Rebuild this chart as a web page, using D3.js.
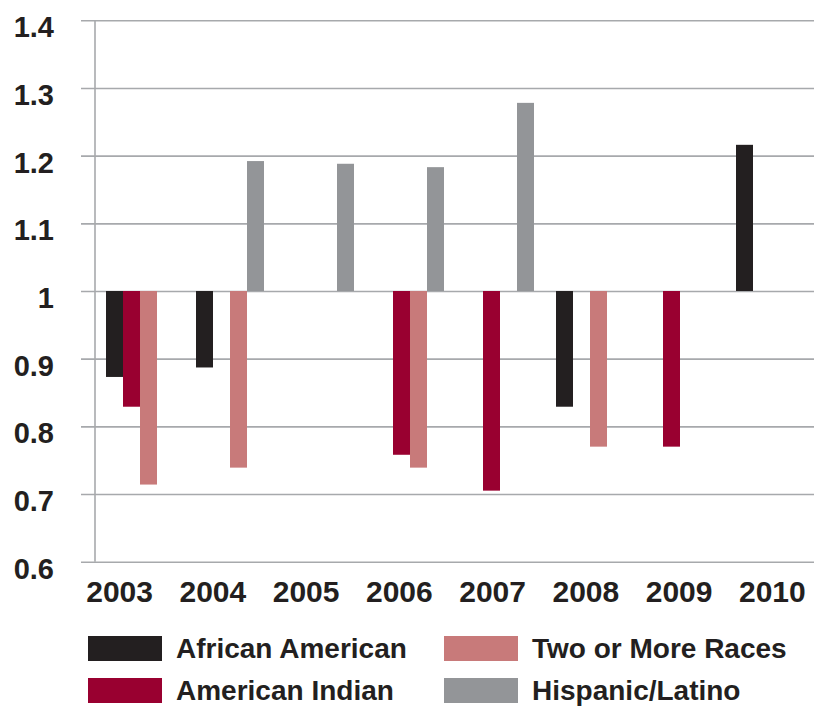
<!DOCTYPE html>
<html>
<head>
<meta charset="utf-8">
<script src="https://cdn.jsdelivr.net/npm/d3@7"></script>
<style>
  body { margin: 0; background: #fff; }
  svg { display: block; font-family: "Liberation Sans", Arial, Helvetica, sans-serif; font-weight: bold; }
</style>
</head>
<body>
<svg id="chart"></svg>
<script>
// data
const years = ['2003', '2004', '2005', '2006', '2007', '2008', '2009', '2010']
const seriesNames = ['African American', 'American Indian', 'Two or More Races', 'Hispanic/Latino']
const africanAmerican = [0.873, 0.887, null, null, null, 0.829, null, 1.216]
const americanIndian = [0.829, null, null, 0.758, 0.705, null, 0.770, null]
const twoOrMoreRaces = [0.714, 0.739, null, 0.739, null, 0.770, null, null]
const hispanicLatino = [null, 1.192, 1.188, 1.183, 1.278, null, null, null]
const yTicks = [0.6, 0.7, 0.8, 0.9, 1, 1.1, 1.2, 1.3, 1.4]
const yTickLabels = ['0.6', '0.7', '0.8', '0.9', '1', '1.1', '1.2', '1.3', '1.4']
const baseline = 1

const colors = ['#231f20', '#990030', '#c87a7a', '#939598']
const seriesValues = [africanAmerican, americanIndian, twoOrMoreRaces, hispanicLatino]

const width = 814
const height = 707

const svg = d3.select('#chart')
  .attr('width', width)
  .attr('height', height)

// scales
const y = d3.scaleLinear().domain([0.6, 1.4]).range([561.7, 20.3])
const x0 = d3.scaleBand().domain(years).range([95, 815])
const x1 = d3.scaleBand().domain(seriesNames).range([11, 79])
const xLabel = d3.scaleBand().domain(years).range([73, 819])

// gridlines + y labels
const yAxis = svg.append('g')
  .attr('transform', `translate(${width},0)`)
  .call(d3.axisLeft(y)
    .tickValues(yTicks)
    .tickFormat((d, i) => yTickLabels[i])
    .tickSize(width - 81)
    .tickPadding(27))
yAxis.select('.domain').remove()
yAxis.selectAll('line')
  .attr('stroke', '#a7a9ac')
  .attr('stroke-width', 1.6)
yAxis.selectAll('text')
  .attr('dy', '0.57em')
  .attr('fill', '#231f20')
  .style('font-size', '29px')
  .style('font-family', '"Liberation Sans", Arial, sans-serif')

// vertical axis line
svg.append('line')
  .attr('x1', 95).attr('x2', 95)
  .attr('y1', y(1.4)).attr('y2', y(0.6))
  .attr('stroke', '#a7a9ac')
  .attr('stroke-width', 1.6)

// bars
const barData = []
seriesNames.forEach((s, si) => {
  seriesValues[si].forEach((v, yi) => {
    if (v !== null) barData.push({ year: years[yi], series: s, value: v, color: colors[si] })
  })
})

svg.append('g').selectAll('rect')
  .data(barData)
  .enter()
  .append('rect')
  .attr('x', d => x0(d.year) + x1(d.series))
  .attr('y', d => Math.min(y(d.value), y(baseline)))
  .attr('width', x1.bandwidth())
  .attr('height', d => Math.abs(y(d.value) - y(baseline)))
  .attr('fill', d => d.color)

// year labels
const xAxis = svg.append('g')
  .attr('transform', 'translate(0,602)')
  .call(d3.axisBottom(xLabel).tickSize(0).tickPadding(0))
xAxis.select('.domain').remove()
xAxis.selectAll('text')
  .attr('y', 0)
  .attr('dy', 0)
  .attr('fill', '#231f20')
  .style('font-size', '30px')
  .style('font-family', '"Liberation Sans", Arial, sans-serif')

// legend
const legendCols = [88, 444]
const legendRows = [636, 678]
const legendOrder = [0, 2, 1, 3]
const legend = svg.append('g').selectAll('g')
  .data(legendOrder)
  .enter()
  .append('g')
  .attr('transform', (d, i) => `translate(${legendCols[i % 2]},${legendRows[Math.floor(i / 2)]})`)

legend.append('rect')
  .attr('width', 74)
  .attr('height', 25)
  .attr('fill', d => colors[d])

legend.append('text')
  .attr('x', 88)
  .attr('y', 22)
  .attr('fill', '#231f20')
  .style('font-size', '28px')
  .text(d => seriesNames[d])
</script>
</body>
</html>
